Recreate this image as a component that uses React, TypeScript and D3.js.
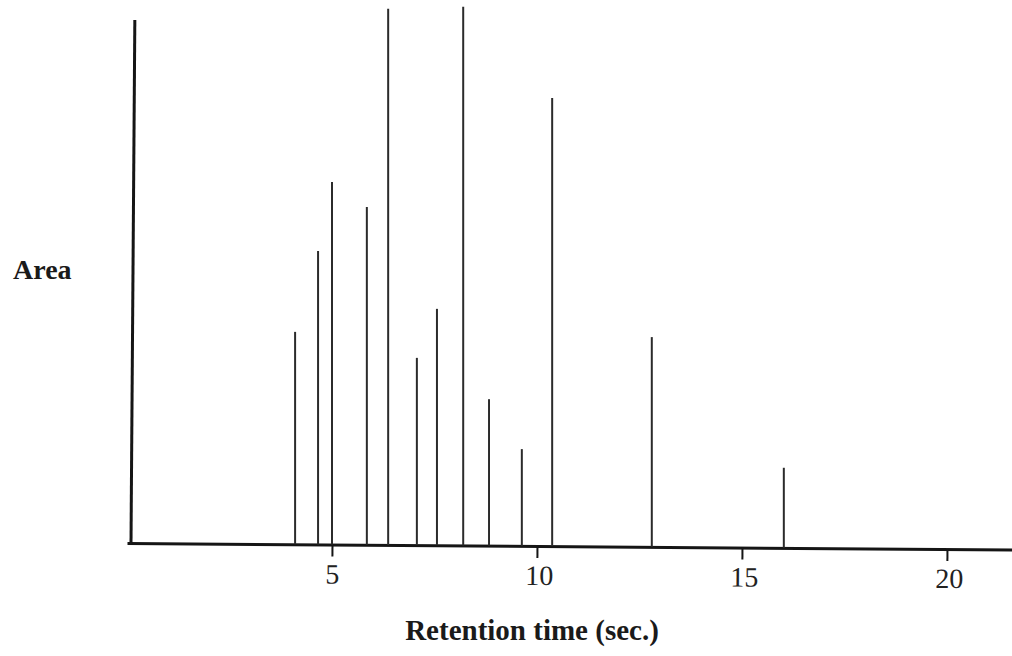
import React, { useEffect, useRef } from 'react'
import * as d3 from 'd3'

// peak retention times (sec.) and relative areas (100 = top of the y axis)
const retentionTimes = [4.10, 4.66, 5.0, 5.85, 6.37, 7.07, 7.56, 8.20, 8.83, 9.63, 10.37, 12.80, 16.02]
const peakAreas = [40.6, 56.1, 69.3, 64.6, 102.5, 35.8, 45.2, 103.0, 28.0, 18.5, 85.7, 40.1, 15.3]
const xTicks = [5, 10, 15, 20]

const W = 1012
const H = 656

export default function App() {
  const ref = useRef<SVGSVGElement>(null)

  useEffect(() => {
    const svg = d3.select(ref.current)
    svg.selectAll('*').remove()

    const x0 = 130, y0 = 543
    const tilt = 0.42 // degrees, the scan is not quite level
    const slope = Math.tan(tilt * Math.PI / 180)
    const x = d3.scaleLinear().domain([0, 22.5]).range([127, 127 + 41 * 22.5])
    const y = d3.scaleLinear().domain([0, 100]).range([y0, 20])
    const font = '"Liberation Serif", "Times New Roman", serif'

    // axes sit in a slightly rotated group
    const g = svg.append('g').attr('transform', `rotate(${tilt}, ${x0}, ${y0})`)

    // x axis
    const xAxis = g.append('g')
      .attr('transform', `translate(0, ${y0})`)
      .call(d3.axisBottom(x).tickValues(xTicks).tickSize(12).tickSizeOuter(0).tickFormat(d3.format('d')))
    xAxis.select('.domain').attr('stroke', '#151515').attr('stroke-width', 3)
    xAxis.selectAll('.tick line').attr('stroke', '#151515').attr('stroke-width', 2)
    xAxis.selectAll('.tick text')
      .attr('y', 39).attr('dy', 0).attr('dx', (d: any) => (d === 5 ? 0 : 2))
      .attr('fill', '#222')
      .style('font-family', font)
      .style('font-size', '28px')

    // y axis (no ticks)
    g.append('line')
      .attr('x1', x0 + 1).attr('x2', x0 + 1)
      .attr('y1', y(0) + 1.5).attr('y2', y(100))
      .attr('stroke', '#151515')
      .attr('stroke-width', 3)

    // peaks stay vertical, standing on the tilted baseline
    svg.append('g').selectAll('.peak')
      .data(retentionTimes.map((t, i) => [t, peakAreas[i]]))
      .join('line')
      .attr('class', 'peak')
      .attr('x1', d => x(d[0]))
      .attr('x2', d => x(d[0]))
      .attr('y1', d => y(0) + (x(d[0]) - x0) * slope)
      .attr('y2', d => y(d[1]) + (x(d[0]) - x0) * slope)
      .attr('stroke', '#2b2b2b')
      .attr('stroke-width', 2)

    // labels
    svg.append('text')
      .attr('x', 13).attr('y', 279)
      .attr('fill', '#1a1a1a')
      .style('font-family', font)
      .style('font-size', '28px')
      .style('font-weight', 'bold')
      .text('Area')

    svg.append('text')
      .attr('x', 532).attr('y', 640)
      .attr('text-anchor', 'middle')
      .attr('fill', '#1a1a1a')
      .style('font-family', font)
      .style('font-size', '29px')
      .style('font-weight', 'bold')
      .text('Retention time (sec.)')
  }, [])

  return (
    <svg ref={ref} width={W} height={H}
      style={{ position: 'absolute', left: 0, top: 0, background: '#fff' }} />
  )
}
